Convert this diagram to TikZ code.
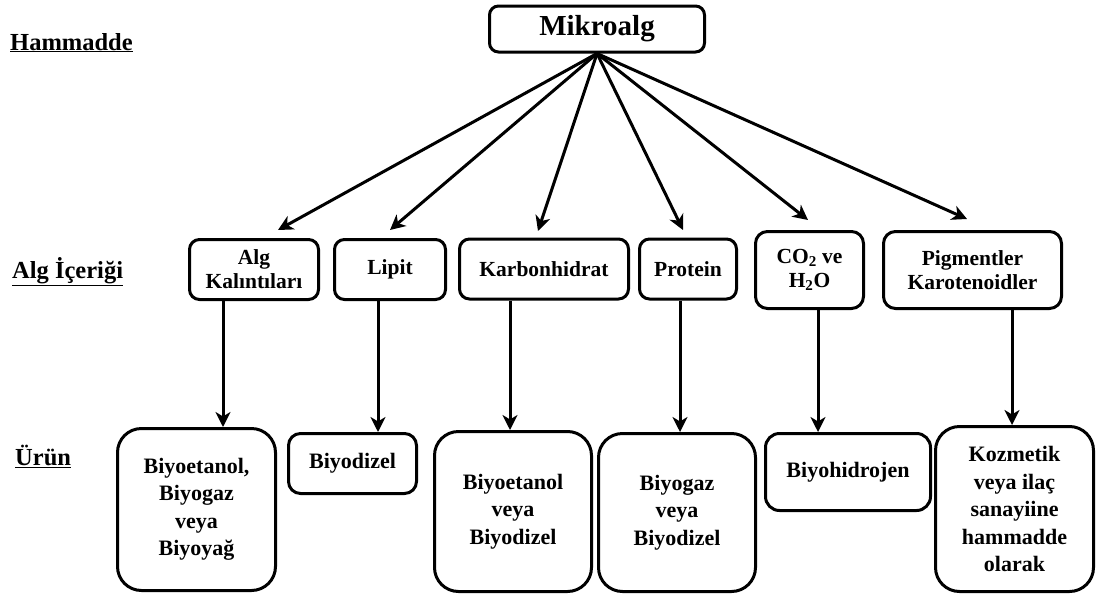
\documentclass[tikz,border=0pt]{standalone}
\usepackage{fontspec}
\setmainfont{Liberation Serif}
\usetikzlibrary{arrows.meta}
\begin{document}
\begin{tikzpicture}[x=1pt,y=-1pt,
  mbox/.style={draw, line width=3pt, rounded corners=10pt, align=center, inner sep=0pt,
    font=\fontsize{21.5}{24}\selectfont\bfseries},
  pbox/.style={draw, line width=3pt, rounded corners=24pt, align=center, inner sep=0pt,
    font=\fontsize{22}{27.5}\selectfont\bfseries},
  lbl/.style={anchor=base west, inner sep=0pt, font=\fontsize{24.5}{28}\selectfont\bfseries},
  arr/.style={line width=3pt, -{Stealth[length=15pt,width=15pt,inset=4.5pt]}}]
\useasboundingbox (0,0) rectangle (1097,597);

% row labels
\node[lbl] (lh) at (10,50) {\underline{Hammadde}};
\node[lbl] (la) at (12,278) {\underline{Alg İçeriği}};
\node[lbl] (lu) at (15,465) {\underline{Ürün}};

% top
\node[mbox, rounded corners=9pt, minimum width=215pt, minimum height=46pt,
  font=\fontsize{29}{32}\selectfont\bfseries] (mik) at (597,29) {Mikroalg};

% middle
\node[mbox, minimum width=129pt, minimum height=60pt] (alg) at (254,269.5) {Alg\\Kalıntıları};
\node[mbox, minimum width=111pt, minimum height=60pt] (lip) at (390,269.5) {Lipit};
\node[mbox, minimum width=169pt, minimum height=60pt] (kar) at (544,269) {Karbonhidrat};
\node[mbox, minimum width=97pt, minimum height=60pt] (pro) at (688,269) {Protein};
\node[mbox, rounded corners=12pt, minimum width=108pt, minimum height=77pt] (co2) at (809.5,270) {CO\textsubscript{2} ve\\H\textsubscript{2}O};
\node[mbox, rounded corners=12pt, minimum width=178pt, minimum height=77pt] (pig) at (972.5,270) {Pigmentler\\Karotenoidler};

% bottom
\node[pbox, minimum width=158pt, minimum height=162pt] (b1) at (196.5,509.5) {Biyoetanol,\\Biyogaz\\veya\\Biyoyağ};
\node[pbox, rounded corners=12pt, minimum width=128pt, minimum height=60pt] (b2) at (352.5,463.5) {Biyodizel};
\node[pbox, minimum width=157pt, minimum height=160pt] (b3) at (513,511.5) {Biyoetanol\\veya\\Biyodizel};
\node[pbox, minimum width=157pt, minimum height=158pt] (b4) at (677,512.5) {Biyogaz\\veya\\Biyodizel};
\node[pbox, rounded corners=14pt, minimum width=165pt, minimum height=77pt] (b5) at (848,472) {Biyohidrojen};
\node[pbox, minimum width=158pt, minimum height=165pt] (b6) at (1014.5,509) {Kozmetik\\veya ilaç\\sanayiine\\hammadde\\olarak};

% arrow end points above the middle boxes
\coordinate (t1) at (278,230);
\coordinate (t2) at (390,230);
\coordinate (t3) at (538,231);
\coordinate (t4) at (683,230);
\coordinate (t5) at (808,220);
\coordinate (t6) at (967,219);

\foreach \t in {t1,t2,t3,t4,t5,t6}
  \draw[arr] (mik.south) -- (\t);

% vertical arrows
\draw[arr] (alg.south -| 223,0) -- (b1.north -| 223,0);
\draw[arr] (lip.south -| 378,0) -- (b2.north -| 378,0);
\draw[arr] (kar.south -| 510,0) -- (b3.north -| 510,0);
\draw[arr] (pro.south -| 680,0) -- (b4.north -| 680,0);
\draw[arr] (co2.south -| 818,0) -- (b5.north -| 818,0);
\draw[arr] (pig.south -| 1012,0) -- (b6.north -| 1012,0);
\end{tikzpicture}
\end{document}
